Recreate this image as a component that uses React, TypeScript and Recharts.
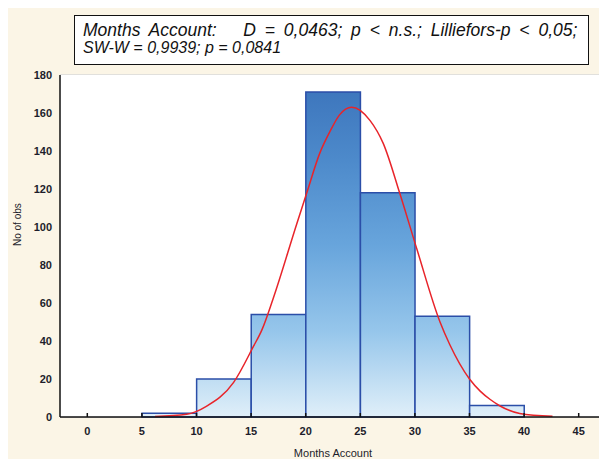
import {
  ComposedChart,
  Bar,
  Line,
  XAxis,
  YAxis,
  CartesianGrid,
  Rectangle,
} from "recharts";

// histogram bins (bin centres) and counts
const binCenters = [2.5, 7.5, 12.5, 17.5, 22.5, 27.5, 32.5, 37.5];
const binCounts = [0, 2, 20, 54, 171, 118, 53, 6];

// fitted normal curve
const curveX = [6.2, 9.1, 10.9, 13.4, 15.2, 16, 17, 19.2, 20.1, 21.3, 22.2, 23.1, 24.2, 25.9, 27.1, 28.6, 30.2, 32.3, 33.2, 35, 36, 36.9, 37.8, 39.6, 42.6];
const curveY = [0.2, 1.4, 5.6, 18.2, 37, 46, 62, 102, 118, 139, 150, 159, 163, 156, 144, 118, 88, 50, 38, 20, 13.5, 9.2, 5.8, 1.9, 0.4];

const xTicks = [0, 5, 10, 15, 20, 25, 30, 35, 40, 45];
const yTicks = [0, 20, 40, 60, 80, 100, 120, 140, 160, 180];

const barData = binCenters.map((x, i) => ({ x, count: binCounts[i] }));
const curveData = curveX.map((x, i) => ({ x, fit: curveY[i] }));

const W = 599;
const H = 451;
const margin = { top: 67, right: 1, bottom: 12, left: 0 };
const yAxisWidth = 52;
const plotWidth = W - margin.left - margin.right - yAxisWidth;
const binWidthPx = (plotWidth / 50) * 5;

// full-width histogram bar, centred on the scaled bin centre
const BinShape = (props: any) => {
  const { x, y, width, height } = props;
  const cx = x + width / 2;
  return (
    <Rectangle
      x={cx - binWidthPx / 2}
      y={y}
      width={binWidthPx}
      height={height}
      fill="url(#barFill)"
      stroke="#2b4ea8"
      strokeWidth={1.5}
    />
  );
};

const NoLabel = () => <g />;

export default function App() {
  return (
    <div
      style={{
        position: "relative",
        width: W,
        height: H,
        background: "#fbf5e6",
        fontFamily: "'Liberation Sans', Arial, sans-serif",
      }}
    >
      <style>{"body{overflow:hidden}"}</style>
      <ComposedChart width={W} height={H} data={barData} margin={margin}>
        <defs>
          <linearGradient id="barFill" gradientUnits="userSpaceOnUse" x1="0" y1="67" x2="0" y2="409">
            <stop offset="0" stopColor="#3a72ba" />
            <stop offset="0.25" stopColor="#4d8acb" />
            <stop offset="0.5" stopColor="#68a5dc" />
            <stop offset="0.75" stopColor="#96c6eb" />
            <stop offset="1" stopColor="#e0eff9" />
          </linearGradient>
        </defs>
        <rect x={yAxisWidth} y={67} width={plotWidth} height={342} fill="#ffffff" />
        <CartesianGrid vertical={false} stroke="#d9d9d9" strokeWidth={1.5} />
        <XAxis
          dataKey="x"
          type="number"
          domain={[-2.5, 47.5]}
          ticks={xTicks}
          allowDataOverflow
          height={30}
          stroke="#111"
          strokeWidth={1.5}
          tickSize={-4}
          tickMargin={14}
          tick={{ fontSize: 11, fill: "#1d1d2b", fontWeight: 600 }}
          label={{ value: "Months Account", position: "insideBottom", offset: -10, fontSize: 11, fill: "#1d1d2b" }}
        />
        <XAxis
          xAxisId="top"
          orientation="top"
          dataKey="x"
          type="number"
          domain={[-2.5, 47.5]}
          ticks={xTicks}
          height={0}
          stroke="#111"
          strokeWidth={1.5}
          tickSize={-4}
          tick={NoLabel}
        />
        <YAxis
          domain={[0, 180]}
          ticks={yTicks}
          width={yAxisWidth}
          stroke="#111"
          strokeWidth={1.5}
          tickLine={false}
          tick={{ fontSize: 11, fill: "#1d1d2b", fontWeight: 600 }}
          label={{ value: "No of obs", angle: -90, position: "insideLeft", offset: 9, fontSize: 10, fill: "#1d1d2b" }}
        />
        <YAxis
          yAxisId="right"
          orientation="right"
          domain={[0, 180]}
          width={0}
          stroke="#111"
          strokeWidth={1.5}
          tick={false}
          tickLine={false}
        />
        <Bar dataKey="count" shape={BinShape} isAnimationActive={false} />
        <Line
          data={curveData}
          dataKey="fit"
          type="monotone"
          stroke="#e8242a"
          strokeWidth={1.5}
          dot={false}
          isAnimationActive={false}
        />
      </ComposedChart>
      <div
        style={{
          position: "absolute",
          left: 66,
          top: 7,
          width: 505,
          height: 43,
          border: "1.5px solid #111",
          background: "#fff",
          fontStyle: "italic",
          fontSize: 16,
          lineHeight: "18px",
          color: "#111",
          padding: "5px 0 0 8px",
          whiteSpace: "pre",
        }}
      >
        <div style={{ fontSize: 17.5, wordSpacing: 4 }}>{"Months Account:   D = 0,0463; p < n.s.; Lilliefors-p < 0,05;"}</div>
        <div style={{ fontSize: 16 }}>{"SW-W = 0,9939; p = 0,0841"}</div>
      </div>
    </div>
  );
}
